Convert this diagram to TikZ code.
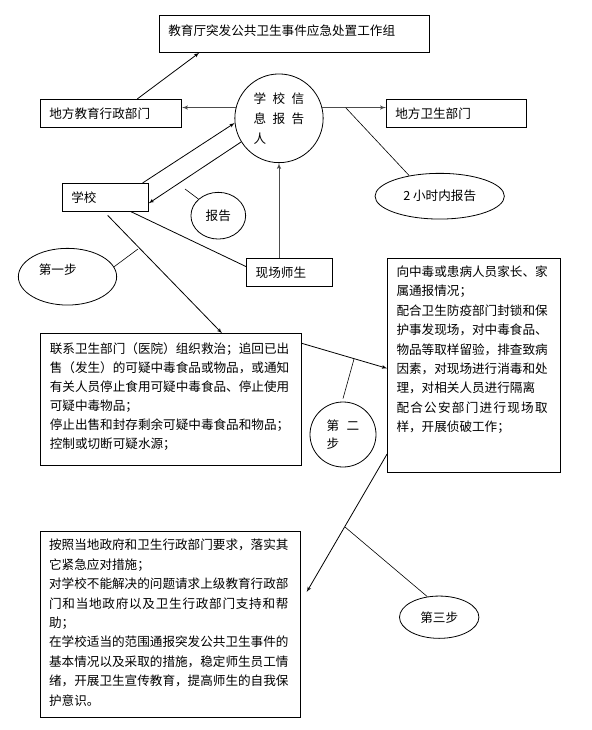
\documentclass[tikz,border=0pt]{standalone}
\usepackage{fontspec}
\newfontfamily\cjk{Noto Sans CJK SC}
\usetikzlibrary{arrows}
\usetikzlibrary{shapes.geometric}
\newcommand{\chgap}{\hspace{6.4pt}}

\begin{document}
\begin{tikzpicture}[x=1pt, y=-1pt, >=latex', line width=.8pt,
  font=\cjk\fontsize{12.6pt}{19.4pt}\selectfont,
  box/.style={draw, rectangle, align=left, inner xsep=9pt},
  oval/.style={draw, ellipse, inner sep=0pt},
  feed/.style={->, draw=black!70, line width=1pt},
  lead/.style={line width=.6pt}]
\useasboundingbox (0,0) rectangle (591,730);
% upper part
\node[box, text width=252pt, minimum height=37pt, text depth=7.5pt] (top) at (294.3,33.8) {教育厅突发公共卫生事件应急处置工作组};
\node[box, text width=123.4pt, minimum height=28pt] (edu) at (111,113.3) {地方教育行政部门};
\node[oval, minimum width=88.3pt, minimum height=88.7pt, align=left, font=\cjk\fontsize{12.6pt}{20pt}\selectfont] (rep) at (279,118.3) {学\chgap 校\chgap 信\\息\chgap 报\chgap 告\\人};
\node[box, text width=122pt, minimum height=28pt] (hl) at (456.3,113.3) {地方卫生部门};
\node[oval, minimum width=129.3pt, minimum height=45.7pt] (tw) at (439.7,196.2) {2 小时内报告};
\node[box, text width=68pt, minimum height=28pt] (sch) at (105.3,197.3) {学校};
\node[oval, minimum width=54.7pt, minimum height=46.7pt] (bg) at (218.3,215.7) {报告};
\node[box, text width=68pt, minimum height=28.4pt] (xc) at (289.7,272.5) {现场师生};
\node[oval, minimum width=98.3pt, minimum height=56.7pt, label={[xshift=-9.8pt, yshift=7.4pt]center:第一步}] (s1) at (67.5,276.7) {};
% steps
\node[box, anchor=north west, text width=242.5pt, inner ysep=8.7pt, text depth=103.2pt, font=\cjk\fontsize{12.6pt}{19pt}\selectfont] (lx) at (40.4,333.3) {联系卫生部门（医院）组织救治；追回已出\\售（发生）的可疑中毒食品或物品，或通知\\有关人员停止食用可疑中毒食品、停止使用\\可疑中毒物品；\\停止出售和封存剩余可疑中毒食品和物品；\\控制或切断可疑水源；};
\node[box, anchor=north west, text width=155.3pt, inner ysep=7.1pt, text depth=189pt] (rb) at (387.1,258.3) {向中毒或患病人员家长、家\\属通报情况；\\配合卫生防疫部门封锁和保\\护事发现场，对中毒食品、\\物品等取样留验，排查致病\\因素，对现场进行消毒和处\\理，对相关人员进行隔离\\\leavevmode\hbox to 151.2pt{配\hfill 合\hfill 公\hfill 安\hfill 部\hfill 门\hfill 进\hfill 行\hfill 现\hfill 场\hfill 取}\\样，开展侦破工作；};
\node[oval, minimum width=66pt, minimum height=65pt, align=left, font=\cjk\fontsize{12.6pt}{18pt}\selectfont] (s2) at (343,434.5) {第\hspace{7.4pt}二\\步};
\node[box, anchor=north west, text width=242.5pt, inner ysep=8pt, text depth=159.7pt] (az) at (39.7,530.7) {按照当地政府和卫生行政部门要求，落实其\\它紧急应对措施；\\对学校不能解决的问题请求上级教育行政部\\\leavevmode\hbox to 239.4pt{门\hfill 和\hfill 当\hfill 地\hfill 政\hfill 府\hfill 以\hfill 及\hfill 卫\hfill 生\hfill 行\hfill 政\hfill 部\hfill 门\hfill 支\hfill 持\hfill 和\hfill 帮}\\助；\\在学校适当的范围通报突发公共卫生事件的\\基本情况以及采取的措施，稳定师生员工情\\绪，开展卫生宣传教育，提高师生的自我保\\护意识。};
\node[oval, minimum width=79.4pt, minimum height=42.3pt] (s3) at (439.2,617.2) {第三步};
% leader points
\coordinate (k2h) at (345.7,107.7);
\coordinate (kbg) at (185,189);
\coordinate (k1) at (138,249);
\coordinate (k2) at (354,359);
\coordinate (k3) at (345,527);
% arrows
\draw[->] ([xshift=26.3pt]edu.north) -- ([xshift=-95pt]top.south);
\draw[feed] (rep.166) -- (rep.166 -| edu.east);
\draw[feed] (rep.14) -- (rep.14 -| hl.west);
\draw[->] ([xshift=37.4pt]sch.north) -- (rep.186);
\draw[->] (rep.212) -- ([yshift=-6pt]sch.east);
\draw[feed] (rep.south |- xc.north) -- (rep.south);
\draw ([xshift=25.7pt]sch.south) -- ([yshift=5.8pt]xc.west);
\draw[->] ([xshift=2.4pt,yshift=-3.7pt]sch.south) -- ([xshift=51pt]lx.north);
\draw[->] ([yshift=-10pt]lx.north east) -- ([yshift=-2.7pt]rb.west);
\draw[->] ([yshift=19pt]rb.south west) -- ([xshift=5.7pt,yshift=32.3pt]az.east);
% leaders
\draw[lead] (k2h) -- (tw.146);
\draw[lead] (kbg) -- (bg.140);
\draw[lead] (k1) -- (s1.12);
\draw[lead] (k2) -- ([yshift=3pt]s2.north);
\draw[lead] (k3) -- (s3.120);
\end{tikzpicture}
\end{document}
